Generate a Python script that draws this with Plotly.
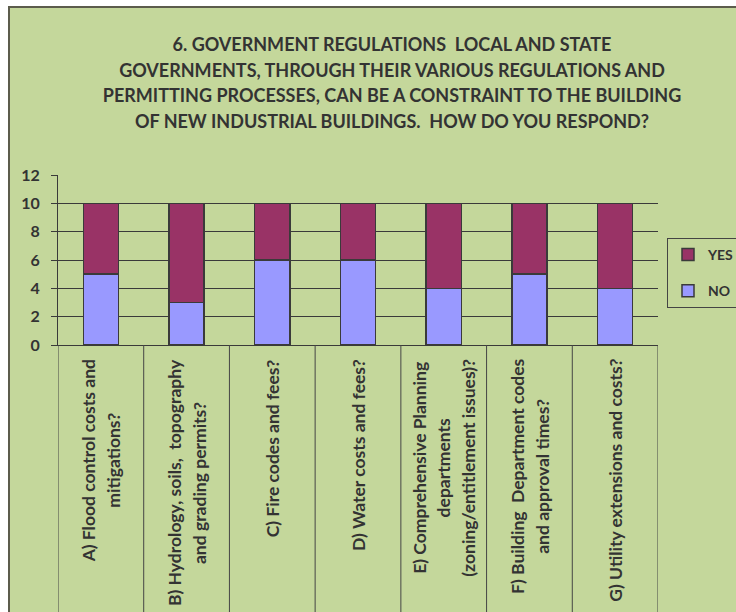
import plotly.graph_objects as go

categories = [
    "A) Flood control costs and<br>mitigations?",
    "B) Hydrology, soils,  topography<br>and grading permits?",
    "C) Fire codes and fees?",
    "D) Water costs and fees?",
    "E) Comprehensive Planning<br>departments<br>(zoning/entitlement issues)?",
    "F) Building  Department codes<br>and approval times?",
    "G) Utility extensions and costs?",
]
no_values = [5, 3, 6, 6, 4, 5, 4]
yes_values = [5, 7, 4, 4, 6, 5, 6]
y_ticks = [0, 2, 4, 6, 8, 10, 12]
title_lines = [
    "6. GOVERNMENT REGULATIONS  LOCAL AND STATE",
    "GOVERNMENTS, THROUGH THEIR VARIOUS REGULATIONS AND",
    "PERMITTING PROCESSES, CAN BE A CONSTRAINT TO THE BUILDING",
    "OF NEW INDUSTRIAL BUILDINGS.  HOW DO YOU RESPOND?",
]

BG = "#C4D79B"
DARK = "#3a3a3a"
TXT = "#333333"
FONT = "Lato"

idx = list(range(len(categories)))

fig = go.Figure()
fig.add_trace(go.Bar(
    x=idx, y=no_values, name="NO", legendgroup="no", legendrank=2,
    marker=dict(color="#9999FF", line=dict(color=DARK, width=1.5)),
))
fig.add_trace(go.Bar(
    x=idx, y=yes_values, name="YES", legendgroup="yes", legendrank=1,
    marker=dict(color="#993366", line=dict(color=DARK, width=1.5)),
))

W, H = 736, 612
L, T = 58, 175
R = W - 658
B = H - 345
pw, ph = W - L - R, H - T - B

shapes = [dict(
    type="rect", xref="paper", yref="paper",
    x0=(9 - L) / pw, x1=1.4, y0=-(B + 20) / ph, y1=(H - B - 7) / ph,
    fillcolor=BG, line=dict(color="#5c5c4c", width=2), layer="below",
)]
for i in range(len(categories) + 1):
    shapes.append(dict(
        type="line", xref="x", yref="paper",
        x0=i - 0.5, x1=i - 0.5, y0=0, y1=-(B + 10) / ph,
        line=dict(color="#454545", width=1), layer="above",
    ))

annotations = []
for i, c in enumerate(categories):
    txt = "<br>".join("<span style='font-size:17.5px'>%s</span>" % s for s in c.split("<br>"))
    annotations.append(dict(
        x=i, xref="x", y=0, yref="paper", yanchor="top", xanchor="center",
        yshift=-12, text=txt, textangle=-90, showarrow=False, align="center",
        font=dict(family=FONT, size=19, color=TXT, weight=700),
    ))

title_text = "<br>".join("<span style='font-size:18px'>%s</span>" % s for s in title_lines)

fig.update_layout(
    width=W, height=H,
    margin=dict(l=L, r=R, t=T, b=B, autoexpand=False),
    paper_bgcolor="white", plot_bgcolor="rgba(0,0,0,0)",
    barmode="stack", bargap=0.59,
    font=dict(family=FONT, color=TXT, weight=700),
    title=dict(
        text=title_text, x=392 / W, xref="container", xanchor="center",
        y=1 - 51 / H, yref="container", yanchor="top",
        font=dict(family=FONT, size=19.8, color=TXT, weight=700),
    ),
    xaxis=dict(
        range=[-0.5, len(categories) - 0.5], showticklabels=False, ticks="",
        showgrid=False, showline=True, linecolor=DARK, linewidth=1, zeroline=False,
    ),
    yaxis=dict(
        range=[0, 12], tickvals=y_ticks, showgrid=True, gridcolor=DARK, gridwidth=1,
        ticks="outside", ticklen=6, tickcolor=DARK, showline=True, linecolor=DARK,
        linewidth=1, zeroline=False, ticklabelstandoff=8,
        tickfont=dict(family=FONT, size=16, color=TXT, weight=700),
    ),
    legend=dict(
        x=(667 - L) / pw, y=(345 - 238) / ph, xanchor="left", yanchor="top",
        bgcolor="rgba(0,0,0,0)", bordercolor="#444444", borderwidth=1,
        traceorder="grouped", tracegroupgap=15,
        font=dict(family=FONT, size=14, color=TXT, weight=700),
    ),
    shapes=shapes, annotations=annotations,
)

fig.write_html(
    "out.html",
    config={"displayModeBar": False},
    post_script="document.body.style.margin='0';",
)
